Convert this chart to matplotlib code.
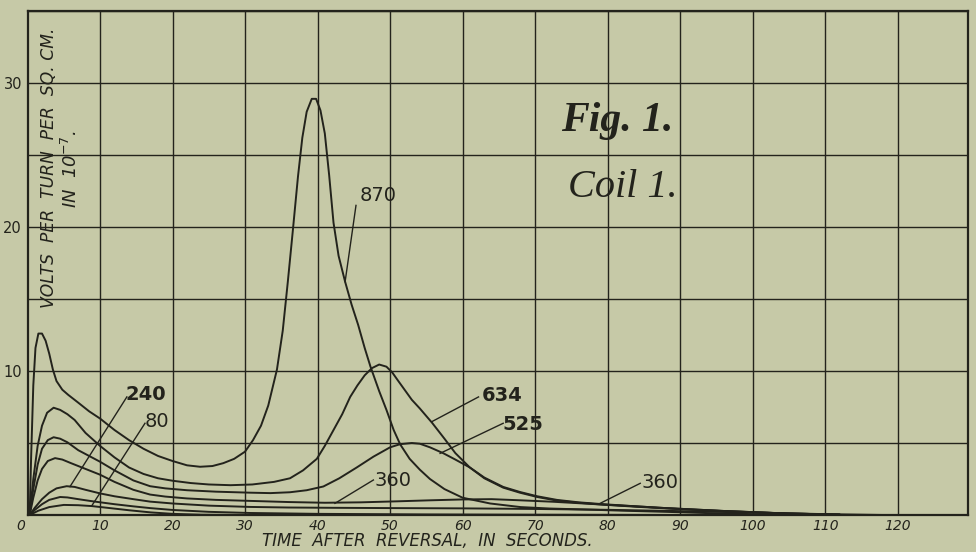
import matplotlib
matplotlib.use("Agg")
import matplotlib.pyplot as plt
from matplotlib.transforms import ScaledTranslation

# ---- data (time in s, volts per turn per sq.cm in 1e-7) ----
t_870 = [0.3, 0.5, 0.8, 1.1, 1.5, 2.0, 2.5, 3.0, 3.5, 4.0, 4.8, 5.6, 7, 8.5, 10, 12, 14, 16, 18, 20, 22,
         23.8, 25.5, 27, 28.5, 30, 31.1, 32.2, 33.2, 34.4, 35.2, 35.9, 36.6, 37.3, 37.9, 38.5, 39.2, 39.8,
         40.4, 41.0, 41.6, 42.2, 42.9, 43.8, 44.7, 45.6, 46.5, 47.3, 48.5, 49.5, 50.5, 51.4, 52.7, 54.1,
         55.5, 57.5, 60, 63.8, 68, 72, 77, 82, 88, 94, 100, 108]
v_870 = [0, 4, 9, 11.6, 12.6, 12.6, 12.1, 11.2, 10.1, 9.3, 8.7, 8.35, 7.8, 7.2, 6.7, 5.9, 5.2, 4.6, 4.1,
         3.75, 3.45, 3.35, 3.4, 3.6, 3.9, 4.4, 5.2, 6.2, 7.6, 10.1, 12.8, 16.2, 19.8, 23.5, 26.2, 28.0,
         28.9, 28.9, 28.1, 26.5, 23.6, 20.3, 18.0, 16.2, 14.6, 13.2, 11.6, 10.3, 8.6, 7.3, 5.9, 4.9, 3.9,
         3.15, 2.5, 1.8, 1.2, 0.8, 0.55, 0.45, 0.38, 0.3, 0.22, 0.13, 0.06, 0.0]

t_634 = [0.3, 0.8, 1.4, 2.0, 2.7, 3.6, 4.5, 5.5, 6.5, 8, 10, 12, 14, 16, 18, 20, 22.5, 25, 28, 31, 34,
         36.2, 38, 39.9, 41, 42.2, 43.4, 44.5, 45.5, 46.5, 47.5, 48.5, 49.5, 50.3, 51, 52, 53, 54.1, 55.8,
         57.5, 59, 61, 63, 65.6, 67.9, 70.3, 73, 76, 79.4, 84, 88, 92, 96, 100, 105, 112]
v_634 = [0, 2.5, 4.8, 6.2, 7.1, 7.45, 7.3, 7.0, 6.6, 5.7, 4.8, 4.0, 3.3, 2.85, 2.55, 2.38, 2.22, 2.12,
         2.07, 2.12, 2.3, 2.55, 3.1, 3.9, 4.8, 5.9, 7.0, 8.2, 9.0, 9.7, 10.2, 10.45, 10.3, 9.9, 9.4, 8.7,
         8.0, 7.4, 6.4, 5.3, 4.3, 3.3, 2.6, 1.95, 1.6, 1.3, 1.05, 0.88, 0.75, 0.6, 0.48, 0.38, 0.28, 0.2,
         0.1, 0.03]

t_525 = [0.3, 0.8, 1.4, 2.0, 2.8, 3.6, 4.5, 5.5, 7, 8.5, 10, 12, 14.6, 16.9, 19, 22, 26, 30.7, 33.5,
         36.2, 38.5, 40.8, 43, 45.4, 47.7, 50, 51.4, 53, 54.1, 55.5, 57.3, 59, 61, 63, 65.6, 67.9, 70.3,
         73, 76, 79.4, 84, 88, 92, 96, 100, 105, 112]
v_525 = [0, 1.8, 3.5, 4.6, 5.2, 5.4, 5.3, 5.05, 4.5, 4.1, 3.7, 3.1, 2.4, 2.0, 1.85, 1.72, 1.62, 1.55,
         1.52, 1.58, 1.72, 1.98, 2.55, 3.3, 4.05, 4.7, 4.92, 5.0, 4.95, 4.7, 4.3, 3.85, 3.3, 2.55, 1.9,
         1.55, 1.25, 1.0, 0.85, 0.72, 0.57, 0.46, 0.36, 0.27, 0.19, 0.1, 0.03]

t_360 = [0.3, 0.8, 1.4, 2.0, 2.8, 3.8, 4.8, 6, 8, 10, 12, 14.6, 16.9, 19, 22, 26, 30.7, 36, 41, 46, 51,
         55.5, 60, 64, 68, 72.5, 76, 79.4, 84, 88, 92, 96, 100, 105, 112]
v_360 = [0, 1.2, 2.4, 3.2, 3.75, 3.95, 3.85, 3.6, 3.2, 2.8, 2.3, 1.75, 1.42, 1.28, 1.15, 1.05, 0.98,
         0.9, 0.85, 0.88, 0.95, 1.02, 1.08, 1.1, 1.02, 0.92, 0.82, 0.72, 0.6, 0.48, 0.38, 0.28, 0.2, 0.1,
         0.03]

t_240 = [0.3, 1, 2, 3, 4, 5.4, 6.5, 8, 10, 12, 14.6, 16.9, 20, 25, 30.7, 36, 42, 50, 60, 70, 80, 90,
         100, 110, 118]
v_240 = [0, 0.5, 1.1, 1.55, 1.85, 2.0, 1.95, 1.75, 1.5, 1.3, 1.1, 0.93, 0.8, 0.65, 0.56, 0.52, 0.5,
         0.48, 0.46, 0.42, 0.36, 0.27, 0.17, 0.06, 0.0]

t_160 = [0.3, 1, 2, 3, 4.5, 5.5, 7, 9, 12, 14.6, 16.9, 20, 25, 30.7, 40, 55, 70, 90]
v_160 = [0, 0.35, 0.75, 1.05, 1.25, 1.22, 1.1, 0.95, 0.75, 0.6, 0.48, 0.35, 0.22, 0.14, 0.08, 0.04,
         0.02, 0.0]

t_80 = [0.3, 1.5, 3, 5, 7, 8.85, 11, 14, 17, 20, 24, 30]
v_80 = [0, 0.3, 0.55, 0.7, 0.68, 0.62, 0.5, 0.33, 0.18, 0.08, 0.02, 0.0]

series = [(t_870, v_870), (t_634, v_634), (t_525, v_525), (t_360, v_360),
          (t_240, v_240), (t_160, v_160), (t_80, v_80)]

# curve labels: text, text position, leader start, leader end on curve
label_text = ["870", "634", "525", "360", "360", "240", "80"]
label_pos = [(48.4, 22.2), (65.5, 8.33), (68.3, 6.25), (50.4, 2.43), (87.2, 2.29), (16.3, 8.4), (17.9, 6.46)]
leader_from = [(45.3, 21.5), (62.2, 8.2), (65.6, 6.37), (47.7, 2.43), (84.5, 2.2), (13.7, 8.2), (16.2, 6.37)]
leader_to = [(43.8, 16.2), (55.75, 6.48), (56.9, 4.28), (42.4, 0.81), (78.97, 0.81), (5.86, 1.97), (8.85, 0.63)]

x_ticks = list(range(0, 130, 10))
y_grid = list(range(0, 36, 5))
y_labels = {10: "10", 20: "20", 30: "30"}

bg = "#c6c9a7"
ink = "#23231c"

fig = plt.figure(figsize=(9.76, 5.52), dpi=100)
fig.patch.set_facecolor(bg)
ax = fig.add_axes([27.5 / 976, 37 / 552, (968 - 27.5) / 976, (515 - 11) / 552])
ax.set_facecolor(bg)
ax.set_xlim(0, 129.7)
ax.set_ylim(0, 35)

for xv in x_ticks[1:]:
    ax.axvline(xv, color=ink, lw=1.0, zorder=1)
for yv in y_grid[1:]:
    ax.axhline(yv, color=ink, lw=1.0, zorder=1)

for t, v in series:
    ax.plot(t, v, color=ink, lw=1.4, solid_joinstyle="round", solid_capstyle="round", zorder=3)

for s, p, a, b in zip(label_text, label_pos, leader_from, leader_to):
    ax.plot([a[0], b[0]], [a[1], b[1]], color=ink, lw=1.0, zorder=3)
    bold = s in ("240", "634", "525")
    ax.text(p[0], p[1], s, ha="center", va="center", fontsize=14, color=ink,
            family="DejaVu Sans", fontweight="bold" if bold else "normal", zorder=4)

ax.set_xticks(x_ticks)
ax.set_xticklabels([str(x) for x in x_ticks], fontsize=10, style="italic", color=ink)
ax.set_yticks(y_grid)
ax.set_yticklabels([y_labels.get(y, "") for y in y_grid], fontsize=10.5, color=ink)
ax.tick_params(axis="x", length=0, pad=3)
ax.tick_params(axis="y", length=0, pad=4)
# the origin label sits a little left of the corner
ax.get_xticklabels()[0].set_transform(ax.get_xticklabels()[0].get_transform()
                                      + ScaledTranslation(-7 / 100, 0, fig.dpi_scale_trans))
for sp in ax.spines.values():
    sp.set_linewidth(1.6)
    sp.set_color(ink)

ax.text(55.2, -1.8, "TIME  AFTER  REVERSAL,  IN  SECONDS.", ha="center", va="center",
        fontsize=12, style="italic", color=ink)
ax.text(2.9, 24.1, "VOLTS  PER  TURN  PER  SQ. CM.", rotation=90, ha="center", va="center",
        fontsize=12.3, style="italic", color=ink)
ax.text(6.0, 24.0, r"IN  10$^{-7}$.", rotation=90, ha="center", va="center",
        fontsize=13, style="italic", color=ink)

ax.text(89.0, 26.7, "Fig. 1.", ha="right", va="baseline", fontsize=30, family="Liberation Serif",
        style="italic", fontweight="bold", color=ink)
ax.text(89.7, 22.1, "Coil 1.", ha="right", va="baseline", fontsize=29, family="Liberation Serif",
        style="italic", color=ink)

fig.savefig("out.png", dpi=100, facecolor=bg)
